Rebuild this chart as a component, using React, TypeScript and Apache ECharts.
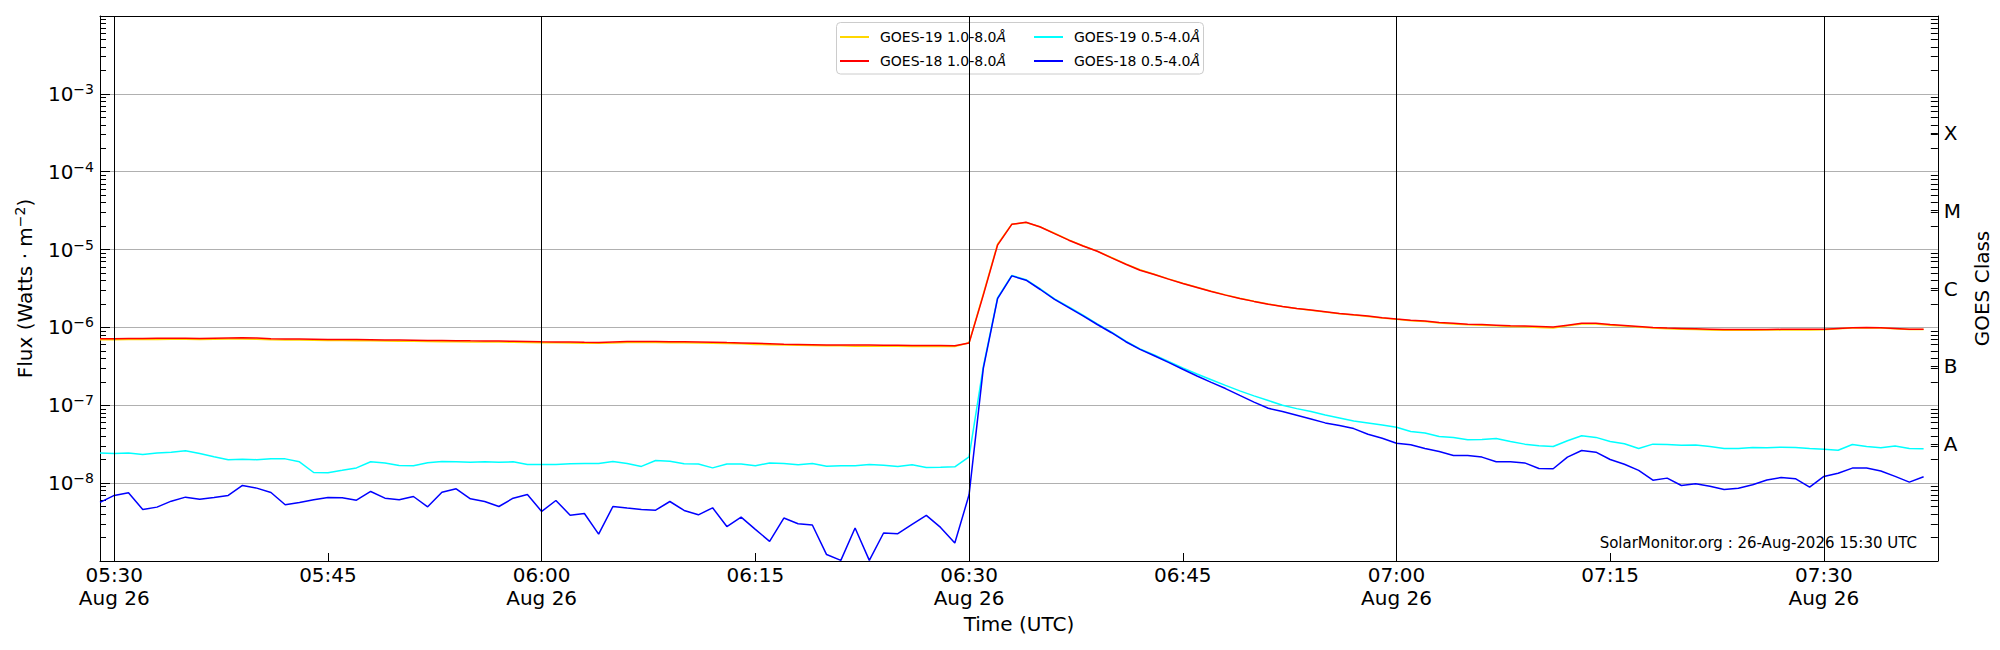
import React, { useEffect, useRef } from "react";
import * as echarts from "echarts";

// ---------- data (1-minute GOES XRS samples, 26 Aug 2026, UTC) ----------
const DAY = { y: 2026, m: 7, d: 26 };
const FIRST_SAMPLE = "05:29";
const CADENCE_MIN = 1;
const X_RANGE = ["05:29", "07:38"];
const X_TICKS = ["05:30", "05:45", "06:00", "06:15", "06:30", "06:45", "07:00", "07:15", "07:30"];
const DAY_LINES = ["05:30", "06:00", "06:30", "07:00", "07:30"];
const DATE_LABEL = "Aug 26";

const Y_MIN = 1e-9;
const Y_MAX = 1e-2;
const Y_DECADES = [1e-9, 1e-8, 1e-7, 1e-6, 1e-5, 1e-4, 1e-3, 1e-2];
const Y_LABELLED = [1e-8, 1e-7, 1e-6, 1e-5, 1e-4, 1e-3];
const GOES_CLASSES = ["A", "B", "C", "M", "X"];
const GOES_CLASS_EXP = [-7.5, -6.5, -5.5, -4.5, -3.5];

const SERIES_NAMES = ["GOES-19 1.0-8.0Å", "GOES-18 1.0-8.0Å", "GOES-19 0.5-4.0Å", "GOES-18 0.5-4.0Å"];
const SERIES_COLORS = ["#FFD700", "#FF0000", "#00FFFF", "#0000FF"];

// GOES-19 1.0-8.0 Å
const g19Long = [
  6.95e-7, 6.95e-7, 7.0e-7, 7.0e-7, 7.0e-7, 7.05e-7, 7.05e-7, 7.0e-7, 7.05e-7, 7.1e-7, // 05:29
  7.1e-7, 7.05e-7, 6.95e-7, 6.9e-7, 6.9e-7, 6.85e-7, 6.8e-7, 6.8e-7, 6.75e-7, 6.75e-7, // 05:39
  6.7e-7, 6.65e-7, 6.65e-7, 6.6e-7, 6.55e-7, 6.55e-7, 6.5e-7, 6.5e-7, 6.5e-7, 6.45e-7, // 05:49
  6.4e-7, 6.35e-7, 6.35e-7, 6.3e-7, 6.25e-7, 6.25e-7, 6.3e-7, 6.4e-7, 6.4e-7, 6.4e-7, // 05:59
  6.35e-7, 6.35e-7, 6.3e-7, 6.25e-7, 6.2e-7, 6.15e-7, 6.05e-7, 6.0e-7, 5.95e-7, 5.9e-7, // 06:09
  5.85e-7, 5.8e-7, 5.8e-7, 5.75e-7, 5.75e-7, 5.75e-7, 5.75e-7, 5.7e-7, 5.7e-7, 5.7e-7, // 06:19
  5.7e-7, 6.35e-7, 2.7e-6, 1.17e-5, 2.12e-5, 2.22e-5, 1.96e-5, 1.62e-5, 1.33e-5, 1.12e-5, // 06:29
  9.55e-6, 7.9e-6, 6.55e-6, 5.5e-6, 4.82e-6, 4.2e-6, 3.7e-6, 3.28e-6, 2.92e-6, 2.62e-6, // 06:39
  2.37e-6, 2.17e-6, 2.0e-6, 1.86e-6, 1.75e-6, 1.66e-6, 1.58e-6, 1.5e-6, 1.44e-6, 1.38e-6, // 06:49
  1.32e-6, 1.27e-6, 1.22e-6, 1.19e-6, 1.14e-6, 1.11e-6, 1.08e-6, 1.07e-6, 1.05e-6, 1.03e-6, // 06:59
  1.02e-6, 1.0e-6, 9.8e-7, 1.05e-6, 1.11e-6, 1.11e-6, 1.07e-6, 1.04e-6, 1.01e-6, 9.8e-7, // 07:09
  9.6e-7, 9.5e-7, 9.4e-7, 9.3e-7, 9.2e-7, 9.2e-7, 9.2e-7, 9.25e-7, 9.25e-7, 9.25e-7, // 07:19
  9.3e-7, 9.35e-7, 9.6e-7, 9.8e-7, 9.9e-7, 9.8e-7, 9.6e-7, 9.4e-7, 9.4e-7, // 07:29
];

// GOES-18 1.0-8.0 Å
const g18Long = [
  7.15e-7, 7.15e-7, 7.2e-7, 7.2e-7, 7.25e-7, 7.25e-7, 7.25e-7, 7.2e-7, 7.25e-7, 7.3e-7,
  7.35e-7, 7.3e-7, 7.15e-7, 7.1e-7, 7.1e-7, 7.05e-7, 7.0e-7, 7.0e-7, 7.0e-7, 6.95e-7,
  6.9e-7, 6.88e-7, 6.86e-7, 6.81e-7, 6.78e-7, 6.75e-7, 6.72e-7, 6.7e-7, 6.68e-7, 6.65e-7,
  6.6e-7, 6.54e-7, 6.52e-7, 6.5e-7, 6.45e-7, 6.41e-7, 6.5e-7, 6.6e-7, 6.6e-7, 6.58e-7,
  6.55e-7, 6.55e-7, 6.5e-7, 6.45e-7, 6.38e-7, 6.32e-7, 6.25e-7, 6.18e-7, 6.1e-7, 6.05e-7,
  6.0e-7, 5.95e-7, 5.95e-7, 5.93e-7, 5.93e-7, 5.9e-7, 5.9e-7, 5.88e-7, 5.86e-7, 5.84e-7,
  5.82e-7, 6.29e-7, 2.6e-6, 1.14e-5, 2.11e-5, 2.24e-5, 1.95e-5, 1.6e-5, 1.32e-5, 1.11e-5,
  9.5e-6, 7.82e-6, 6.48e-6, 5.43e-6, 4.78e-6, 4.17e-6, 3.66e-6, 3.26e-6, 2.9e-6, 2.6e-6,
  2.36e-6, 2.16e-6, 1.99e-6, 1.86e-6, 1.75e-6, 1.67e-6, 1.59e-6, 1.51e-6, 1.45e-6, 1.4e-6,
  1.33e-6, 1.28e-6, 1.24e-6, 1.21e-6, 1.16e-6, 1.13e-6, 1.1e-6, 1.09e-6, 1.07e-6, 1.05e-6,
  1.04e-6, 1.03e-6, 1.01e-6, 1.07e-6, 1.13e-6, 1.13e-6, 1.09e-6, 1.06e-6, 1.03e-6, 1.0e-6,
  9.8e-7, 9.7e-7, 9.6e-7, 9.5e-7, 9.4e-7, 9.4e-7, 9.4e-7, 9.4e-7, 9.45e-7, 9.45e-7,
  9.45e-7, 9.5e-7, 9.7e-7, 9.9e-7, 1.0e-6, 9.9e-7, 9.7e-7, 9.5e-7, 9.5e-7,
];

// GOES-19 0.5-4.0 Å
const g19Short = [
  2.43e-8, 2.41e-8, 2.43e-8, 2.33e-8, 2.43e-8, 2.5e-8, 2.6e-8, 2.4e-8, 2.18e-8, 2.0e-8,
  2.03e-8, 2.0e-8, 2.05e-8, 2.05e-8, 1.88e-8, 1.37e-8, 1.36e-8, 1.46e-8, 1.57e-8, 1.88e-8,
  1.81e-8, 1.69e-8, 1.67e-8, 1.83e-8, 1.9e-8, 1.88e-8, 1.85e-8, 1.88e-8, 1.86e-8, 1.88e-8,
  1.74e-8, 1.74e-8, 1.74e-8, 1.77e-8, 1.79e-8, 1.79e-8, 1.9e-8, 1.79e-8, 1.64e-8, 1.95e-8,
  1.91e-8, 1.77e-8, 1.76e-8, 1.57e-8, 1.76e-8, 1.76e-8, 1.67e-8, 1.82e-8, 1.79e-8, 1.72e-8,
  1.79e-8, 1.65e-8, 1.67e-8, 1.67e-8, 1.73e-8, 1.7e-8, 1.64e-8, 1.72e-8, 1.59e-8, 1.6e-8,
  1.62e-8, 2.18e-8, 3.13e-7, 2.4e-6, 4.65e-6, 4.1e-6, 3.12e-6, 2.33e-6, 1.84e-6, 1.44e-6,
  1.11e-6, 8.7e-7, 6.65e-7, 5.3e-7, 4.42e-7, 3.65e-7, 3.01e-7, 2.52e-7, 2.13e-7, 1.8e-7,
  1.53e-7, 1.32e-7, 1.15e-7, 1.0e-7, 9.06e-8, 8.3e-8, 7.52e-8, 6.88e-8, 6.3e-8, 5.94e-8,
  5.6e-8, 5.23e-8, 4.6e-8, 4.4e-8, 3.98e-8, 3.87e-8, 3.61e-8, 3.64e-8, 3.75e-8, 3.43e-8,
  3.17e-8, 3.02e-8, 2.96e-8, 3.5e-8, 4.06e-8, 3.87e-8, 3.43e-8, 3.2e-8, 2.79e-8, 3.17e-8,
  3.14e-8, 3.06e-8, 3.1e-8, 2.96e-8, 2.79e-8, 2.79e-8, 2.87e-8, 2.85e-8, 2.89e-8, 2.87e-8,
  2.79e-8, 2.73e-8, 2.65e-8, 3.14e-8, 2.96e-8, 2.85e-8, 2.99e-8, 2.79e-8, 2.76e-8,
];

// GOES-18 0.5-4.0 Å
const g18Short = [
  5.65e-9, 6.95e-9, 7.52e-9, 4.59e-9, 4.92e-9, 5.87e-9, 6.61e-9, 6.23e-9, 6.54e-9, 6.95e-9,
  9.33e-9, 8.63e-9, 7.59e-9, 5.27e-9, 5.65e-9, 6.11e-9, 6.54e-9, 6.48e-9, 6.05e-9, 7.82e-9,
  6.41e-9, 6.11e-9, 6.74e-9, 4.97e-9, 7.66e-9, 8.45e-9, 6.3e-9, 5.81e-9, 5.01e-9, 6.41e-9,
  7.14e-9, 4.33e-9, 5.99e-9, 3.88e-9, 4.07e-9, 2.21e-9, 5.01e-9, 4.78e-9, 4.59e-9, 4.5e-9,
  5.81e-9, 4.46e-9, 3.92e-9, 4.82e-9, 2.77e-9, 3.66e-9, 2.55e-9, 1.79e-9, 3.56e-9, 3.01e-9,
  2.9e-9, 1.21e-9, 1.02e-9, 2.65e-9, 1.02e-9, 2.29e-9, 2.24e-9, 2.95e-9, 3.85e-9, 2.7e-9,
  1.7e-9, 7.08e-9, 2.98e-7, 2.35e-6, 4.59e-6, 4.04e-6, 3.07e-6, 2.29e-6, 1.8e-6, 1.41e-6,
  1.09e-6, 8.55e-7, 6.55e-7, 5.22e-7, 4.33e-7, 3.56e-7, 2.9e-7, 2.38e-7, 1.97e-7, 1.64e-7,
  1.34e-7, 1.1e-7, 9.16e-8, 8.3e-8, 7.45e-8, 6.68e-8, 5.94e-8, 5.49e-8, 5.02e-8, 4.25e-8,
  3.77e-8, 3.26e-8, 3.12e-8, 2.79e-8, 2.55e-8, 2.27e-8, 2.27e-8, 2.16e-8, 1.88e-8, 1.88e-8,
  1.82e-8, 1.54e-8, 1.53e-8, 2.16e-8, 2.63e-8, 2.5e-8, 2.01e-8, 1.75e-8, 1.46e-8, 1.09e-8,
  1.16e-8, 9.33e-9, 9.8e-9, 9.14e-9, 8.29e-9, 8.6e-9, 9.53e-9, 1.1e-8, 1.18e-8, 1.14e-8,
  8.89e-9, 1.22e-8, 1.34e-8, 1.56e-8, 1.56e-8, 1.43e-8, 1.22e-8, 1.03e-8, 1.21e-8,
];

const FOOTER_TEXT = "SolarMonitor.org : 26-Aug-2026 15:30 UTC";

// ---------- helpers ----------
const FONT = "DejaVu Sans";
const toMs = (hhmm: string) => {
  const [h, m] = hhmm.split(":").map(Number);
  return Date.UTC(DAY.y, DAY.m, DAY.d, h, m);
};
const pad = (n: number) => (n < 10 ? "0" + n : "" + n);
const withTimes = (vals: number[]) =>
  vals.map((v, i) => [toMs(FIRST_SAMPLE) + i * CADENCE_MIN * 60000, v]);

const minorValues = () => {
  const out: number[] = [];
  for (let e = -9; e <= -3; e++) {
    for (let k = 2; k <= 9; k++) out.push(k * Math.pow(10, e));
  }
  return out;
};
const classValues = GOES_CLASS_EXP.map((e) => Math.pow(10, e));

export default function App() {
  const ref = useRef<HTMLDivElement>(null);

  useEffect(() => {
    if (!ref.current) return;
    const chart = echarts.init(ref.current, undefined, { renderer: "svg" });
    const allSeries = [g19Long, g18Long, g19Short, g18Short];
    const minors = minorValues();

    const supRich = {
      b: { fontSize: 20, lineHeight: 24, color: "#000", fontFamily: FONT },
      s: { fontSize: 14, lineHeight: 14, color: "#000", fontFamily: FONT, verticalAlign: "top" },
    };
    const legendRich = {
      n: { fontSize: 14, color: "#000", fontFamily: FONT },
      a: { fontSize: 14, color: "#000", fontFamily: FONT, fontStyle: "italic" },
    };
    const legendCommon = {
      orient: "vertical",
      top: 29,
      itemWidth: 29,
      itemHeight: 2,
      itemGap: 8,
      icon: "rect",
      padding: 0,
      z: 20,
      selectedMode: false,
      formatter: (name: string) => `{n|${name.slice(0, -1)}}{a|${name.slice(-1)}}`,
      textStyle: { fontSize: 14, lineHeight: 16, color: "#000", fontFamily: FONT, padding: [0, 0, 0, 6], rich: legendRich },
    };

    const option: any = {
      animation: false,
      backgroundColor: "#ffffff",
      textStyle: { fontFamily: FONT },
      grid: { left: 100, right: 60, top: 16, bottom: 89, containLabel: false },
      legend: [
        { ...legendCommon, left: 840, data: [SERIES_NAMES[0], SERIES_NAMES[1]] },
        { ...legendCommon, left: 1034, data: [SERIES_NAMES[2], SERIES_NAMES[3]] },
      ],
      xAxis: [
        {
          type: "value",
          min: toMs(X_RANGE[0]),
          max: toMs(X_RANGE[1]),
          position: "bottom",
          axisLine: { show: true, lineStyle: { color: "#000", width: 1 } },
          axisTick: { show: true, inside: true, length: 8, lineStyle: { color: "#000" }, customValues: X_TICKS.map(toMs) },
          axisLabel: {
            customValues: X_TICKS.map(toMs),
            fontSize: 20,
            lineHeight: 23,
            color: "#000",
            fontFamily: FONT,
            margin: 2,
            formatter: (v: number) => {
              const d = new Date(v);
              const mm = d.getUTCMinutes();
              const s = `${pad(d.getUTCHours())}:${pad(mm)}`;
              return mm % 30 === 0 ? `${s}\n${DATE_LABEL}` : s;
            },
          },
          splitLine: { show: false },
          name: "Time (UTC)",
          nameLocation: "middle",
          nameGap: 52,
          nameTextStyle: { fontSize: 20, color: "#000", fontFamily: FONT },
        },
        {
          type: "value",
          min: toMs(X_RANGE[0]),
          max: toMs(X_RANGE[1]),
          position: "top",
          axisLine: { show: true, lineStyle: { color: "#000", width: 1 } },
          axisTick: { show: false },
          axisLabel: { show: false },
          splitLine: { show: false },
        },
      ],
      yAxis: [
        {
          type: "log",
          logBase: 10,
          min: Y_MIN,
          max: Y_MAX,
          position: "left",
          axisLine: { show: true, lineStyle: { color: "#000", width: 1 } },
          axisTick: { show: true, inside: true, length: 10, lineStyle: { color: "#000" }, customValues: Y_DECADES },
          axisLabel: {
            customValues: Y_LABELLED,
            margin: 6,
            formatter: (v: number) => {
              const e = Math.round(Math.log10(v));
              if (e < -8 || e > -3) return "";
              return `{b|10}{s|−${-e}}`;
            },
            rich: supRich,
          },
          splitLine: { show: true, lineStyle: { color: "#b0b0b0", width: 1 } },
          name: "{b|Flux (Watts · m}{s|−2}{b|)}",
          nameLocation: "middle",
          nameGap: 63,
          nameRotate: 90,
          nameTextStyle: { fontSize: 20, color: "#000", fontFamily: FONT, rich: supRich },
        },
        {
          type: "log",
          logBase: 10,
          min: Y_MIN,
          max: Y_MAX,
          position: "right",
          axisLine: { show: true, lineStyle: { color: "#000", width: 1 } },
          axisTick: { show: true, inside: true, length: 7, lineStyle: { color: "#000" }, customValues: [...minors, ...classValues] },
          axisLabel: {
            customValues: classValues,
            margin: 6,
            fontSize: 20,
            color: "#000",
            fontFamily: FONT,
            formatter: (v: number) => {
              const e = Math.log10(v);
              const idx = GOES_CLASS_EXP.findIndex((c) => Math.abs(c - e) < 0.05);
              return idx >= 0 ? GOES_CLASSES[idx] : "";
            },
          },
          splitLine: { show: false },
          name: "GOES Class",
          nameLocation: "middle",
          nameGap: 25,
          nameRotate: 90,
          nameTextStyle: { fontSize: 20, color: "#000", fontFamily: FONT },
        },
        {
          type: "log",
          logBase: 10,
          min: Y_MIN,
          max: Y_MAX,
          position: "left",
          axisLine: { show: false },
          axisTick: { show: true, inside: true, length: 6, lineStyle: { color: "#000" }, customValues: minors },
          axisLabel: { show: false },
          splitLine: { show: false },
        },
      ],
      graphic: [
        {
          type: "rect",
          z: 1,
          silent: true,
          shape: { x: 836.5, y: 22.5, width: 367, height: 51.5, r: 4 },
          style: { fill: "rgba(255,255,255,0.8)", stroke: "#cccccc", lineWidth: 1 },
        },
        {
          type: "text",
          z: 10,
          silent: true,
          x: 1917,
          y: 543,
          style: {
            text: FOOTER_TEXT,
            font: `15px "${FONT}"`,
            fill: "#000",
            align: "right",
            verticalAlign: "middle",
            textAlign: "right",
            textVerticalAlign: "middle",
          },
        },
      ],
      series: allSeries.map((vals, i) => ({
        name: SERIES_NAMES[i],
        type: "line",
        xAxisIndex: 0,
        yAxisIndex: 0,
        data: withTimes(vals),
        symbol: "none",
        showSymbol: false,
        silent: true,
        color: SERIES_COLORS[i],
        lineStyle: { color: SERIES_COLORS[i], width: 1.5 },
        itemStyle: { color: SERIES_COLORS[i] },
        emphasis: { disabled: true },
        markLine:
          i === 0
            ? {
                silent: true,
                symbol: ["none", "none"],
                label: { show: false },
                lineStyle: { color: "#000", width: 1, type: "solid" },
                emphasis: { disabled: true },
                data: DAY_LINES.map((t) => ({ xAxis: toMs(t) })),
              }
            : undefined,
      })),
    };

    chart.setOption(option);
    return () => chart.dispose();
  }, []);

  return (
    <div
      ref={ref}
      style={{ position: "fixed", left: 0, top: 0, width: 2000, height: 650, background: "#fff" }}
    />
  );
}
